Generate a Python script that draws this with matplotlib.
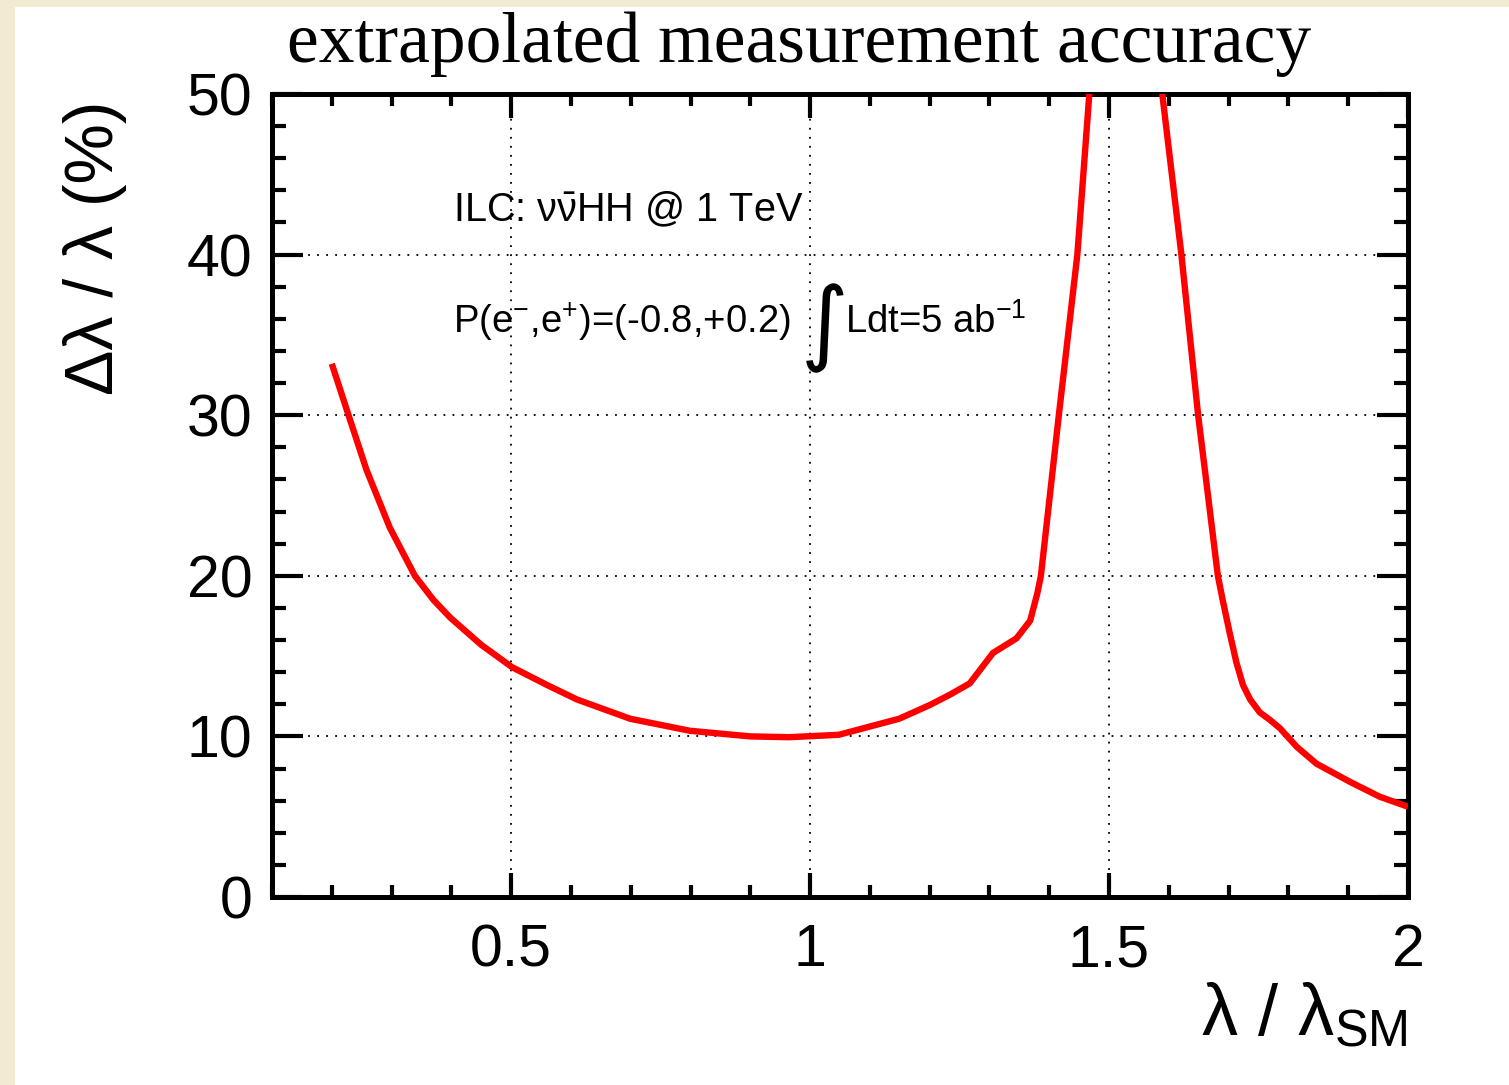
import matplotlib
matplotlib.use("Agg")
import matplotlib.pyplot as plt
from matplotlib.patches import Rectangle
from matplotlib.ticker import MultipleLocator

plt.rcParams["font.family"] = ["Liberation Sans", "DejaVu Sans"]
plt.rcParams["mathtext.fontset"] = "custom"
plt.rcParams["mathtext.rm"] = "Liberation Sans"
plt.rcParams["mathtext.it"] = "Liberation Sans:italic"
plt.rcParams["mathtext.bf"] = "Liberation Sans:bold"

# lambda / lambda_SM  vs  relative accuracy (%)
lam = [0.2, 0.228, 0.258, 0.297, 0.339, 0.37, 0.398, 0.45, 0.502, 0.56,
       0.61, 0.699, 0.799, 0.9, 0.965, 1.048, 1.149, 1.2, 1.234, 1.267,
       1.306, 1.345, 1.368, 1.38, 1.386, 1.416, 1.447, 1.467, 1.52,
       1.589, 1.621, 1.649, 1.682, 1.69, 1.702, 1.713, 1.724, 1.736, 1.752,
       1.77, 1.786, 1.814, 1.847, 1.903, 1.953, 2.0]
acc = [33.2, 30.0, 26.6, 23.0, 20.0, 18.5, 17.4, 15.7, 14.3, 13.2,
       12.3, 11.1, 10.35, 10.0, 9.95, 10.1, 11.1, 11.95, 12.6, 13.3,
       15.2, 16.1, 17.2, 18.9, 20.0, 30.0, 40.0, 50.0, 75.0,
       50.0, 40.0, 30.0, 20.0, 18.5, 16.4, 14.6, 13.2, 12.3, 11.5,
       11.0, 10.5, 9.35, 8.3, 7.17, 6.24, 5.62]

x_major = [0.5, 1, 1.5, 2]
x_labels = ["0.5", "1", "1.5", "2"]
y_major = [0, 10, 20, 30, 40, 50]

W, H = 1509, 1085
fig = plt.figure(figsize=(W / 100, H / 100), dpi=100, facecolor="#f3ead2")
fig.add_artist(Rectangle((15 / W, 0), 1, (H - 7) / H, transform=fig.transFigure,
                         facecolor="white", edgecolor="none", zorder=0))

ax = fig.add_axes([272 / W, 1 - 897 / H, (1408 - 272) / W, (897 - 94) / H])
ax.plot(lam, acc, color="#ff0000", lw=4.6, solid_joinstyle="round",
        solid_capstyle="butt", zorder=3)

ax.set_xlim(0.1, 2)
ax.set_ylim(0, 50)
ax.set_xticks(x_major)
ax.set_xticklabels(x_labels)
ax.set_yticks(y_major)
ax.xaxis.set_minor_locator(MultipleLocator(0.1))
ax.yaxis.set_minor_locator(MultipleLocator(2))

for s in ax.spines.values():
    s.set_linewidth(3.6)
ax.tick_params(which="both", direction="in", top=True, right=True, width=3.0,
               labelsize=42.5)
ax.tick_params(axis="x", which="major", length=17, pad=19)
ax.tick_params(axis="x", which="minor", length=8.5)
ax.tick_params(axis="y", which="major", length=22, pad=14)
ax.tick_params(axis="y", which="minor", length=10)

ax.grid(True, which="major", color="black", lw=1.3, linestyle=(0, (1, 4)))
ax.set_axisbelow(True)

ax.text(0.403, 42.05, r"ILC: $\mathrm{\nu\bar{\nu}}$HH @ 1 TeV", fontsize=28.5,
        va="baseline")
ax.text(0.403, 35.12, r"P(e$^{-}$,e$^{+}$)=(-0.8,+0.2)", fontsize=27.5,
        va="baseline")
ax.text(0.985, 35.4, "\u222b", fontsize=66, family="DejaVu Sans",
        va="center", ha="left")
ax.text(1.058, 35.12, r"Ldt=5 ab$^{-1}$", fontsize=27.5, va="baseline")

fig.text(799 / W, 1 - 62 / H, "extrapolated measurement accuracy",
         family="Liberation Serif", fontsize=51.5, ha="center", va="baseline")
fig.text(95 / W, 1 - 248 / H, "\u0394\u03bb / \u03bb (%)", rotation=90,
         fontsize=49, ha="center", va="center")
fig.text(1408 / W, 1 - 1035 / H, r"$\mathrm{\lambda}$ / $\mathrm{\lambda}_{\mathrm{SM}}$",
         fontsize=52, ha="right", va="baseline")

fig.savefig("out.png", dpi=100, facecolor=fig.get_facecolor())
